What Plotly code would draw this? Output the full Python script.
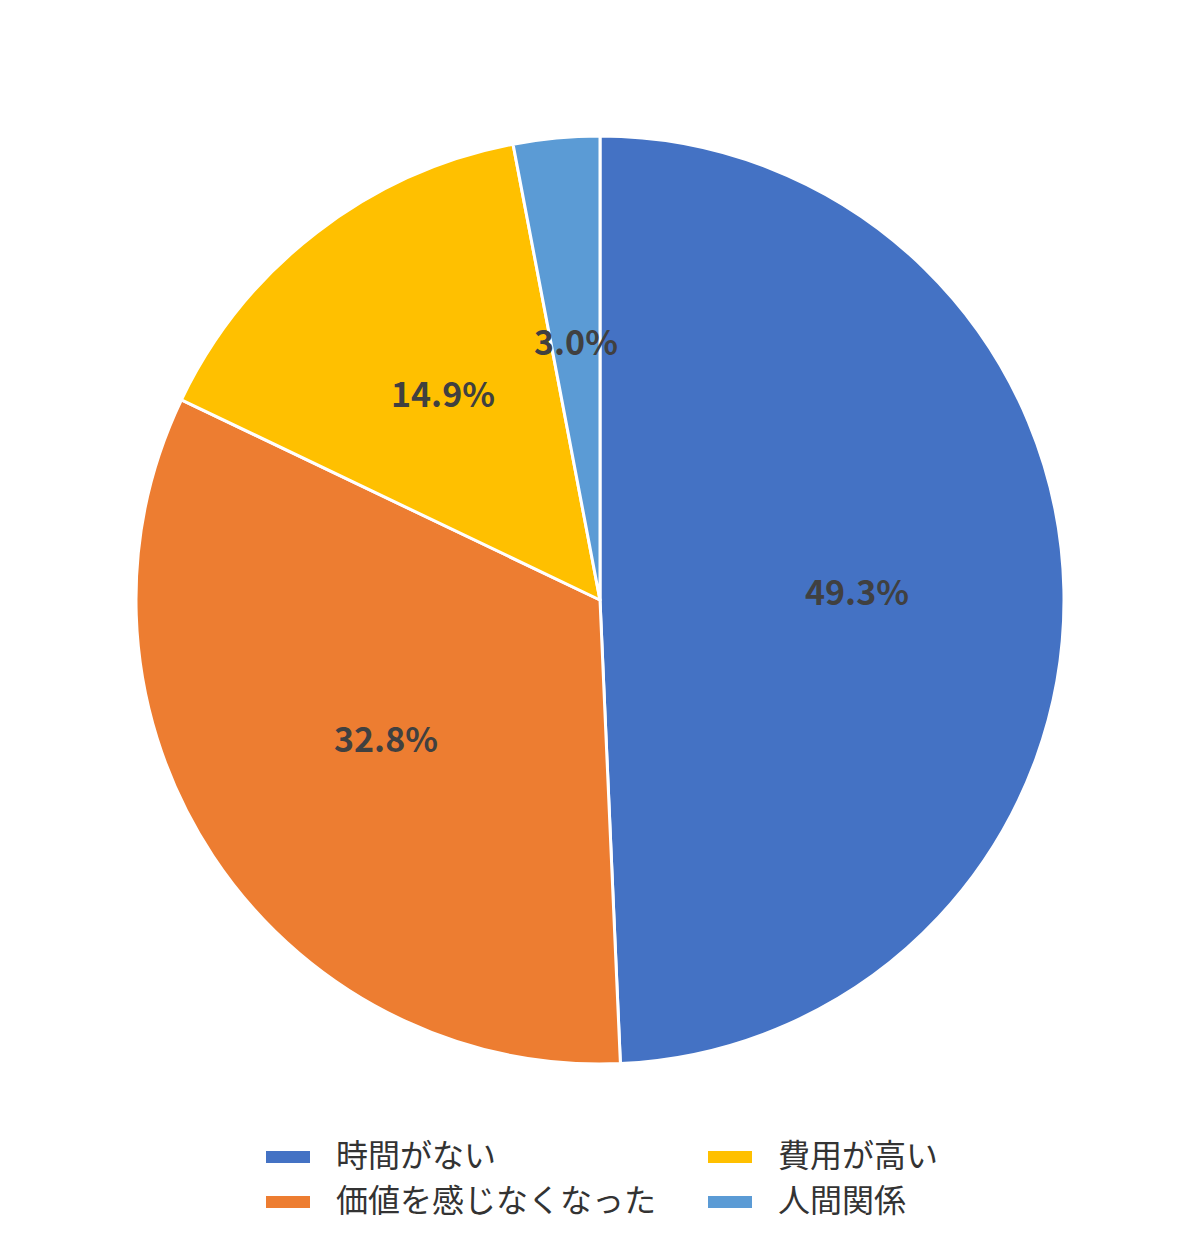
import math
import plotly.graph_objects as go

# ---- data ----
categories = ["時間がない", "価値を感じなくなった", "費用が高い", "人間関係"]
values = [49.3, 32.8, 14.9, 3.0]
colors = ["#4472C4", "#ED7D31", "#FFC000", "#5B9BD5"]

OFF = 8                            # page body margin
W, H = 1200 - 2 * OFF, 1246 - 2 * OFF
CX, CY, R = 600 - OFF, 600 - OFF, 464   # pie centre / radius in figure pixels
LABEL_FRAC = 0.553                 # label distance as share of radius
LABEL_DY = -4                      # small upward nudge of the percentage labels


def px_x(x):
    return (x - OFF) / W


def px_y(y):
    return 1 - (y - OFF) / H


fig = go.Figure()
fig.add_trace(go.Pie(
    labels=categories,
    values=values,
    marker=dict(colors=colors, line=dict(color="white", width=3)),
    sort=False,
    direction="clockwise",
    rotation=0,
    textinfo="none",
    hoverinfo="label+percent",
    showlegend=False,
    domain=dict(x=[(CX - R) / W, (CX + R) / W],
                y=[1 - (CY + R) / H, 1 - (CY - R) / H]),
))

annotations = []
total = sum(values)
cum = 0.0
for v in values:
    mid = (cum + v / 2) / total * 2 * math.pi
    cum += v
    fx = CX + LABEL_FRAC * R * math.sin(mid)
    fy = CY - LABEL_FRAC * R * math.cos(mid) + LABEL_DY
    annotations.append(dict(
        x=fx / W, y=1 - fy / H, xref="paper", yref="paper",
        text=f"<b>{v / total * 100:.1f}%</b>", showarrow=False,
        font=dict(family="Noto Sans CJK JP", size=34, color="#404040"),
        xanchor="center", yanchor="middle",
    ))

# ---- legend (two columns, filled column by column) ----
shapes = []
col_x = [266, 708]
row_y = [1157, 1202]
for idx, name in enumerate(categories):
    col, row = idx // 2, idx % 2
    sx, sy = col_x[col], row_y[row]
    shapes.append(dict(
        type="rect", xref="paper", yref="paper",
        x0=px_x(sx), x1=px_x(sx + 44),
        y0=px_y(sy + 6), y1=px_y(sy - 6),
        fillcolor=colors[idx], line=dict(width=0),
    ))
    annotations.append(dict(
        x=px_x(sx + 68), y=px_y(sy - 4), xref="paper", yref="paper",
        text=name, showarrow=False,
        font=dict(family="Noto Sans CJK JP", size=32, color="#333333"),
        xanchor="left", yanchor="middle",
    ))

fig.update_layout(
    width=W, height=H,
    margin=dict(l=0, r=0, t=0, b=0),
    paper_bgcolor="white",
    plot_bgcolor="white",
    annotations=annotations,
    shapes=shapes,
)

fig.write_html("out.html")
